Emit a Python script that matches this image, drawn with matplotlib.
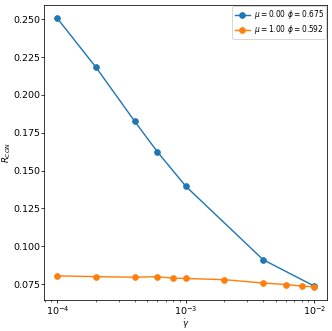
import matplotlib
matplotlib.use("Agg")
import matplotlib.pyplot as plt

gamma_blue = [1e-4, 2e-4, 4e-4, 6e-4, 1e-3, 4e-3, 1e-2]
r_blue = [0.2505, 0.2182, 0.1826, 0.1625, 0.1397, 0.0912, 0.0738]
gamma_orange = [1e-4, 2e-4, 4e-4, 6e-4, 8e-4, 1e-3, 2e-3, 4e-3, 6e-3, 8e-3, 1e-2]
r_orange = [0.0805, 0.0800, 0.0796, 0.0800, 0.0790, 0.0788, 0.0780, 0.0758, 0.0748, 0.0738, 0.0733]
labels = [r"$\mu = 0.00$ $\phi = 0.675$", r"$\mu = 1.00$ $\phi = 0.592$"]

DPI = 68
fig, ax = plt.subplots(figsize=(332 / DPI, 331 / DPI), dpi=DPI)
ax.plot(gamma_blue, r_blue, 'o-', color='#1f77b4', label=labels[0])
ax.plot(gamma_orange, r_orange, 'o-', color='#ff7f0e', label=labels[1])
ax.set_xscale('log')
ax.tick_params(which='major', length=3, pad=1.5)
ax.tick_params(which='minor', length=1.8)
ax.set_xlabel(r"$\dot{\gamma}$", labelpad=0, fontsize=9)
ax.set_ylabel(r"$R_{CON}$", labelpad=0, fontsize=9)
ax.legend(fontsize=8, loc='upper right', borderpad=0.3, labelspacing=0.25,
          handletextpad=0.5, borderaxespad=0.15)
fig.subplots_adjust(left=0.134, right=0.985, top=0.985, bottom=0.093)
fig.savefig("out.png", dpi=DPI)
